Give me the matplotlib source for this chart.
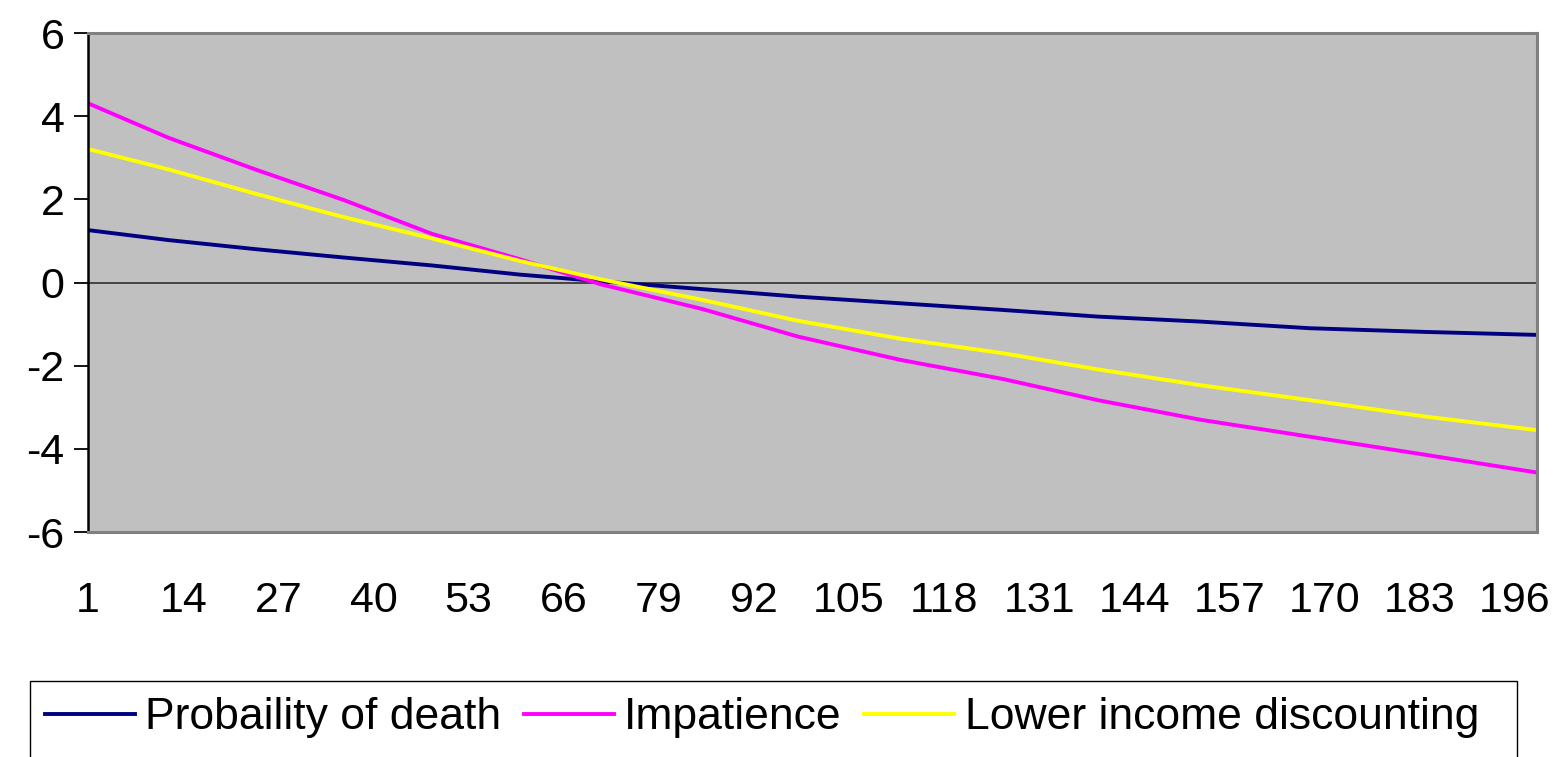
import matplotlib
matplotlib.use('Agg')
import matplotlib.pyplot as plt
from matplotlib.patches import Rectangle

categories = [1, 12, 24, 36, 48, 60, 71, 85, 98, 112, 126, 139, 153, 168, 184, 199]
prob_death = [1.26, 1.02, 0.80, 0.60, 0.41, 0.19, 0.03, -0.16, -0.34, -0.50,
              -0.66, -0.82, -0.94, -1.10, -1.19, -1.26]
impatience = [4.31, 3.48, 2.71, 1.98, 1.17, 0.56, -0.04, -0.64, -1.30, -1.86,
              -2.32, -2.83, -3.30, -3.71, -4.15, -4.57]
lower_income = [3.21, 2.72, 2.13, 1.57, 1.06, 0.52, 0.08, -0.42, -0.92, -1.35,
                -1.70, -2.09, -2.47, -2.83, -3.23, -3.55]
series_names = ['Probaility of death', 'Impatience', 'Lower income discounting']
x_ticks = list(range(1, 197, 13))
y_ticks = [-6, -4, -2, 0, 2, 4, 6]
n_points = 199

plt.rcParams['font.family'] = ['Liberation Sans', 'DejaVu Sans']

W, H = 1558, 757
fig = plt.figure(figsize=(W / 100, H / 100), dpi=100)
ax = fig.add_axes([88 / W, 1 - 532 / H, (1537 - 88) / W, (532 - 33) / H])
ax.set_facecolor('#C0C0C0')

colors = ['#000080', '#FF00FF', '#FFFF00']
for vals, name, c in zip([prob_death, impatience, lower_income], series_names, colors):
    ax.plot(categories, vals, color=c, lw=2.8, label=name, solid_joinstyle='round')

ax.axhline(0, color='#3a3a3a', lw=1.3, zorder=1)

ax.set_xlim(1, n_points)
ax.set_ylim(-6, 6)
ax.set_xticks(x_ticks)
ax.set_yticks(y_ticks)
ax.tick_params(axis='x', length=0, pad=35, labelsize=31)
ax.tick_params(axis='y', length=10, width=1.3, pad=7, labelsize=31, direction='out')
ax.set_yticklabels([str(v) for v in y_ticks])

for side in ['top', 'right', 'bottom']:
    ax.spines[side].set_color('#808080')
    ax.spines[side].set_linewidth(2.2)
ax.spines['left'].set_color('black')
ax.spines['left'].set_linewidth(1.8)

# legend box, cut off at the bottom edge like the original
fig.patches.append(Rectangle((30 / W, -0.05), (1517 - 30) / W, 0.05 + 1 - 681 / H,
                             transform=fig.transFigure, facecolor='white',
                             edgecolor='black', lw=1, zorder=0))
handles, labels = ax.get_legend_handles_labels()
fig.legend(handles, labels, loc='center left', bbox_to_anchor=(45 / W, 1 - 718 / H),
           ncol=3, frameon=False, fontsize=32, handlelength=2.03, handletextpad=0.23,
           columnspacing=0.5, borderpad=0, borderaxespad=0)

fig.savefig('out.png', dpi=100)
